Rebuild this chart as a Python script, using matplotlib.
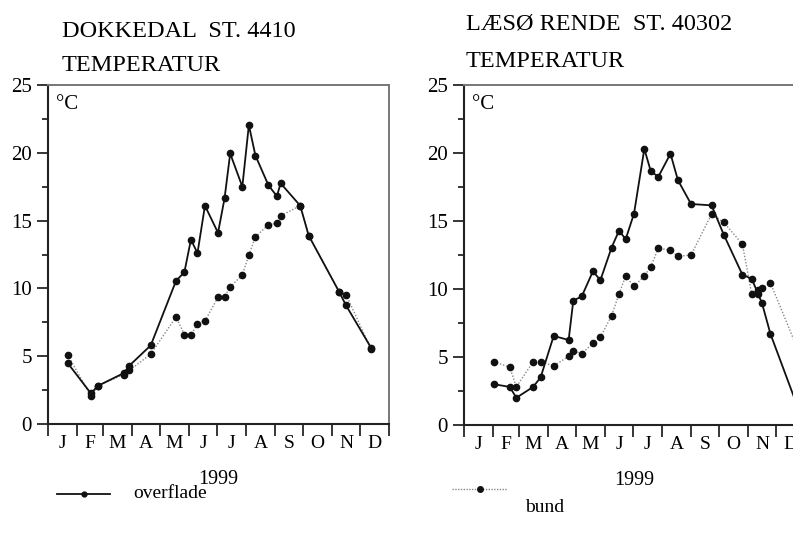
import matplotlib
matplotlib.use("Agg")
import matplotlib.pyplot as plt
from matplotlib.lines import Line2D
import numpy as np

plt.rcParams['font.family'] = ['Liberation Serif', 'DejaVu Serif']

# month boundaries (day of year) and labels
month_edges = [0, 31, 59, 90, 120, 151, 181, 212, 243, 273, 304, 334, 365]
month_labels = ["J", "F", "M", "A", "M", "J", "J", "A", "S", "O", "N", "D"]

# Dokkedal st. 4410 (day of year, temperature in C)
dk_days = [21, 46, 53, 81, 87, 110, 137, 146, 153, 160, 168, 182, 189,
           195, 208, 215, 222, 236, 245, 249, 270, 279, 312, 319, 346]
dk_overflade = [4.5, 2.25, 2.8, 3.75, 4.3, 5.8, 10.55, 11.2, 13.6, 12.6, 16.1,
                14.1, 16.65, 19.95, 17.5, 22.05, 19.8, 17.6, 16.8, 17.75, 16.1,
                13.9, 9.7, 8.75, 5.6]
dk_bund = [5.1, 2.05, 2.8, 3.65, 3.95, 5.15, 7.9, 6.6, 6.55, 7.4, 7.6, 9.35,
           9.4, 10.1, 11.0, 12.45, 13.8, 14.7, 14.8, 15.35, 16.1, 13.9, 9.7,
           9.55, 5.5]

# Laesoe Rende st. 40302
lr_days = [32, 49, 56, 74, 82, 96, 112, 117, 126, 138, 146, 158, 166, 173,
           182, 193, 200, 208, 221, 229, 243, 265, 278, 298, 308, 315, 319,
           328, 360]
lr_overflade = [3.0, 2.8, 2.0, 2.8, 3.5, 6.55, 6.25, 9.15, 9.45, 11.3, 10.65,
                13.05, 14.3, 13.65, 15.55, 20.3, 18.65, 18.25, 19.95, 18.0,
                16.25, 16.15, 14.0, 11.05, 10.75, 9.6, 8.95, 6.7, 0.8]
lr_bund = [4.65, 4.25, 2.8, 4.65, 4.65, 4.35, 5.05, 5.45, 5.25, 6.0, 6.45,
           8.05, 9.65, 10.95, 10.2, 10.95, 11.65, 13.0, 12.85, 12.4, 12.5,
           15.5, 14.9, 13.3, 9.6, 9.9, 10.05, 10.45, 5.1]

W, H = 793, 536
fig = plt.figure(figsize=(W / 100, H / 100), dpi=100)


def setup(ax):
    ax.set_xlim(0, 365)
    ax.set_ylim(0, 25)
    for s in ["left", "bottom"]:
        ax.spines[s].set_linewidth(1.5)
        ax.spines[s].set_color("#222222")
    for s in ["top", "right"]:
        ax.spines[s].set_linewidth(1.4)
        ax.spines[s].set_color("#777777")
    ax.set_xticks(month_edges)
    ax.set_xticklabels([])
    ax.set_xticks([(a + b) / 2 for a, b in zip(month_edges[:-1], month_edges[1:])], minor=True)
    ax.set_xticklabels(month_labels, minor=True, fontsize=14)
    ax.tick_params(axis="x", which="major", direction="out", length=8.6, width=1.1)
    ax.tick_params(axis="x", which="minor", length=0, pad=8)
    ax.set_yticks([0, 5, 10, 15, 20, 25])
    ax.set_yticklabels(["0", "5", "10", "15", "20", "25"], fontsize=15)
    ax.set_yticks(np.arange(2.5, 25, 5), minor=True)
    ax.tick_params(axis="y", which="major", direction="out", length=8, width=1.1, pad=3.5)
    ax.tick_params(axis="y", which="minor", direction="out", length=4, width=1.1)
    ax.text(0.022, 0.97, "°C", transform=ax.transAxes, ha="left", va="top", fontsize=15)
    ax.set_xlabel("1999", fontsize=14.5, labelpad=13)


def draw(ax, days, over, bund):
    ax.plot(days, bund, color="#888888", linestyle=(0, (1, 1.3)), linewidth=1.0,
            marker="o", markersize=4.5, markerfacecolor="#111111",
            markeredgecolor="#111111")
    ax.plot(days, over, color="#111111", linewidth=1.3,
            marker="o", markersize=4.5, markerfacecolor="#111111",
            markeredgecolor="#111111")


ax1 = fig.add_axes([48 / W, 1 - 424 / H, 341 / W, 339 / H])
setup(ax1)
draw(ax1, dk_days, dk_overflade, dk_bund)

ax2 = fig.add_axes([464 / W, 1 - 425 / H, 341 / W, 340 / H])
setup(ax2)
draw(ax2, lr_days, lr_overflade, lr_bund)

# titles
fig.text(62 / W, 1 - 37 / H, "DOKKEDAL  ST. 4410", fontsize=17.5, va="baseline")
fig.text(62 / W, 1 - 71 / H, "TEMPERATUR", fontsize=17.5, va="baseline")
fig.text(466 / W, 1 - 29 / H, "LÆSØ RENDE  ST. 40302", fontsize=17.5, va="baseline")
fig.text(466 / W, 1 - 67 / H, "TEMPERATUR", fontsize=17.5, va="baseline")

# legend keys
fig.add_artist(Line2D([57 / W, 110 / W], [1 - 494 / H] * 2, color="#111111", linewidth=1.3))
fig.add_artist(Line2D([84 / W], [1 - 494 / H], marker="o", markersize=3.5, color="#111111"))
fig.text(133 / W, 1 - 494 / H, "overflade", fontsize=14, va="center")
fig.add_artist(Line2D([452 / W, 507 / W], [1 - 489 / H] * 2, color="#888888",
                      linestyle=(0, (1, 1)), linewidth=1.0))
fig.add_artist(Line2D([480 / W], [1 - 489 / H], marker="o", markersize=4, color="#111111"))
fig.text(525 / W, 1 - 507 / H, "bund", fontsize=14, va="center")

fig.savefig("out.png", dpi=100)
